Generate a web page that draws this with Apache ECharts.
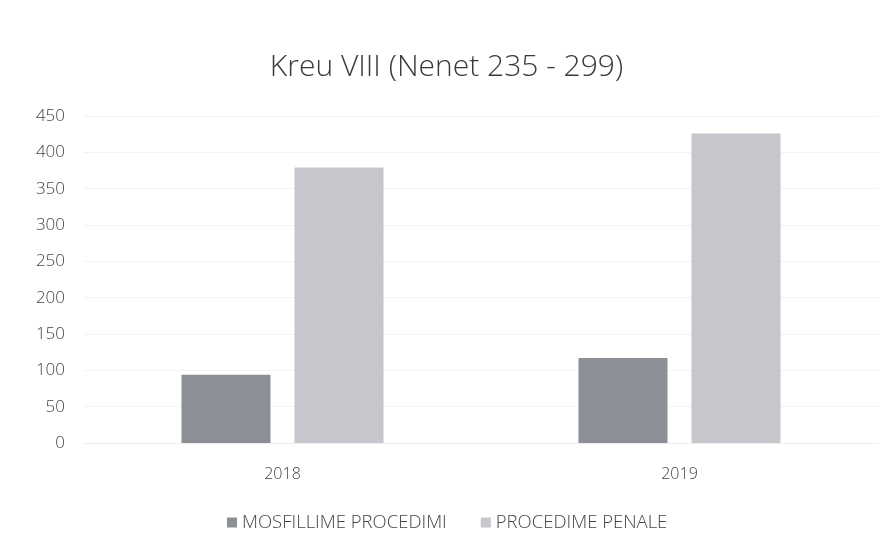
<!DOCTYPE html>
<html><head><meta charset="utf-8">
<script src="https://cdn.jsdelivr.net/npm/echarts@6/dist/echarts.min.js"></script>
<style>html,body{margin:0;padding:0;background:#fff}#c{width:893px;height:551px}</style>
</head><body><div id="c"></div>
<script>
const categories = ['2018', '2019'];
const mosfillime = [94, 117];
const penale = [379, 426];
const seriesNames = ['MOSFILLIME PROCEDIMI', 'PROCEDIME PENALE'];

const chart = echarts.init(document.getElementById('c'));
chart.setOption({
  backgroundColor: '#ffffff',
  animation: false,
  title: {
    text: 'Kreu VIII (Nenet 235 - 299)',
    left: 'center', top: 47,
    textStyle: {fontFamily: 'Open Sans', fontWeight: 300, fontSize: 30, color: '#3a3a3a'}
  },
  legend: {
    bottom: 14, left: 222, itemWidth: 10, itemHeight: 10, itemGap: 34,
    icon: 'rect',
    textStyle: {fontFamily: 'Open Sans', fontWeight: 300, fontSize: 18.5, color: '#444'},
    data: seriesNames
  },
  grid: {left: 84, right: 15, top: 116, bottom: 108},
  xAxis: {
    type: 'category', data: categories,
    axisLine: {show: true, lineStyle: {color: '#eeeeee'}},
    axisTick: {show: false},
    axisLabel: {fontFamily: 'Open Sans', fontWeight: 300, fontSize: 16, color: '#444', margin: 23}
  },
  yAxis: {
    type: 'value', min: 0, max: 450, interval: 50,
    axisLine: {show: false}, axisTick: {show: false},
    splitLine: {lineStyle: {color: '#f3f3f3'}},
    axisLabel: {fontFamily: 'Open Sans', fontWeight: 300, fontSize: 17, color: '#444', margin: 19}
  },
  series: [
    {name: seriesNames[0], type: 'bar', data: mosfillime, barWidth: 89, barGap: '27%',
     itemStyle: {color: '#8c8f96'}},
    {name: seriesNames[1], type: 'bar', data: penale, barWidth: 89,
     itemStyle: {color: '#c5c7cd'}}
  ]
});
</script></body></html>
